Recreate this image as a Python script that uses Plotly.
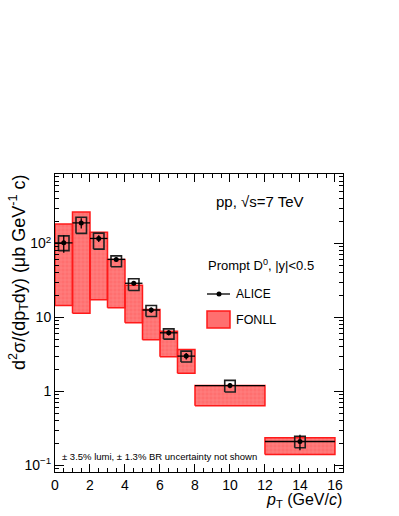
import plotly.graph_objects as go

# ---- data ----
pt_centers = [0.5, 1.5, 2.5, 3.5, 4.5, 5.5, 6.5, 7.5, 10.0, 14.0]
pt_halfwidth = [0.5, 0.5, 0.5, 0.5, 0.5, 0.5, 0.5, 0.5, 2.0, 2.0]
alice_val = [102, 190, 117, 61, 29, 12.6, 6.2, 3.0, 1.2, 0.21]
alice_stat = [27, 30, 12, 4, 2, 1.0, 0.5, 0.3, 0.1, 0.05]
alice_syst_lo = [80, 137, 84, 48.5, 23.2, 10.3, 5.1, 2.5, 0.98, 0.173]
alice_syst_hi = [127, 226, 138, 68, 33.4, 14.5, 7.0, 3.5, 1.41, 0.248]
fonll_lo = [14.5, 11.4, 17.4, 13.5, 8.5, 5.0, 2.95, 1.76, 0.64, 0.14]
fonll_hi = [184, 267, 142, 61, 27.2, 12.8, 6.5, 3.7, 1.2, 0.236]
syst_box_halfwidth = 0.3

x_ticks = [0, 2, 4, 6, 8, 10, 12, 14, 16]
y_tickvals = [0.1, 1, 10, 100]
y_ticktext = ["10<sup>\u22121</sup>", "1", "10", "10<sup>2</sup>"]

FONT = "Liberation Sans, Arial, Helvetica, sans-serif"
FILL = "rgba(255,95,95,0.9)"


def boxes(cx, hw, lo, hi):
    xs, ys = [], []
    for c, h, l, u in zip(cx, hw, lo, hi):
        xs += [c - h, c + h, c + h, c - h, c - h, None]
        ys += [l, l, u, u, l, None]
    return xs, ys


fig = go.Figure()

fx, fy = boxes(pt_centers, pt_halfwidth, fonll_lo, fonll_hi)
fig.add_trace(go.Scatter(
    x=fx, y=fy, mode="lines", fill="toself",
    fillcolor=FILL,
    fillpattern=dict(shape="+", fgcolor="rgba(255,175,175,0.7)", bgcolor=FILL,
                     size=4, solidity=0.3),
    line=dict(color="#ff1a1a", width=1.5),
    hoverinfo="skip", showlegend=False))

sx, sy = boxes(pt_centers, [syst_box_halfwidth] * len(pt_centers), alice_syst_lo, alice_syst_hi)
fig.add_trace(go.Scatter(
    x=sx, y=sy, mode="lines",
    line=dict(color="#202020", width=1.6),
    hoverinfo="skip", showlegend=False))

fig.add_trace(go.Scatter(
    x=pt_centers, y=alice_val, mode="markers",
    marker=dict(color="black", size=5, symbol="circle"),
    error_y=dict(type="data", array=alice_stat, color="black", thickness=1.3, width=0),
    error_x=dict(type="data", array=pt_halfwidth, color="black", thickness=1.3, width=0),
    showlegend=False))

W, H = 399, 516
L, R, T, B = 55, 343, 174, 472


def px(x):
    return (x - L) / (R - L)


def py(y):
    return (B - y) / (B - T)


annotations = [
    dict(text="pp, \u221as=7 TeV", x=px(214), y=py(201), xanchor="left", yanchor="middle",
         font=dict(size=15, family=FONT, color="black")),
    dict(text="Prompt D<sup>0</sup>, |y|<0.5", x=px(206), y=py(265), xanchor="left", yanchor="middle",
         font=dict(size=13, family=FONT, color="black")),
    dict(text="ALICE", x=px(234), y=py(294), xanchor="left", yanchor="middle",
         font=dict(size=12, family=FONT, color="black")),
    dict(text="FONLL", x=px(234), y=py(320), xanchor="left", yanchor="middle",
         font=dict(size=12.5, family=FONT, color="black")),
    dict(text="\u00b1 3.5% lumi, \u00b1 1.3% BR uncertainty not shown", x=px(60), y=py(456),
         xanchor="left", yanchor="middle", font=dict(size=9.5, family=FONT, color="black")),
    dict(text="<i>p</i><sub>T</sub> (GeV/<i>c</i>)", x=px(344), y=py(500), xanchor="right", yanchor="middle",
         font=dict(size=16, family=FONT, color="black")),
    dict(text="d<sup>2</sup>\u03c3/(dp<sub>T</sub>dy) (\u03bcb GeV<sup>-1</sup> c)",
         x=px(18), y=py(273), xanchor="center", yanchor="middle", textangle=-90,
         font=dict(size=18, family=FONT, color="black")),
]
for a in annotations:
    a.update(xref="paper", yref="paper", showarrow=False)

shapes = [
    dict(type="line", xref="paper", yref="paper", x0=px(207), x1=px(230), y0=py(294), y1=py(294),
         line=dict(color="black", width=1.3)),
    dict(type="circle", xref="paper", yref="paper", x0=px(216.5), x1=px(221.5), y0=py(296.5), y1=py(291.5),
         fillcolor="black", line=dict(color="black", width=0)),
    dict(type="rect", xref="paper", yref="paper", x0=px(207), x1=px(230), y0=py(328), y1=py(311),
         fillcolor=FILL, line=dict(color="#ff1a1a", width=1.5)),
]

fig.update_layout(
    width=W, height=H,
    margin=dict(l=L, r=W - R, t=T, b=H - B, pad=0),
    paper_bgcolor="white", plot_bgcolor="white",
    font=dict(family=FONT, size=14, color="black"),
    annotations=annotations, shapes=shapes,
    showlegend=False,
)
fig.update_xaxes(
    range=[0, 16.46], tickvals=x_ticks, ticks="inside", ticklen=8, tickwidth=1, tickcolor="black",
    showline=True, linecolor="black", linewidth=1, mirror="allticks", showgrid=False, zeroline=False,
    tickfont=dict(size=14, family=FONT),
    minor=dict(dtick=0.5, ticks="inside", ticklen=4, tickcolor="black", showgrid=False),
)
fig.update_yaxes(
    type="log", range=[-1.09, 2.94], tickvals=y_tickvals, ticktext=y_ticktext,
    ticks="inside", ticklen=9, tickwidth=1, tickcolor="black",
    showline=True, linecolor="black", linewidth=1, mirror="allticks", showgrid=False, zeroline=False,
    tickfont=dict(size=14, family=FONT),
    minor=dict(dtick="D1", ticks="inside", ticklen=4, tickcolor="black", showgrid=False),
)

fig.write_html("out.html", config={"displayModeBar": False},
               post_script="document.body.style.margin='0';document.body.style.overflow='hidden';")
